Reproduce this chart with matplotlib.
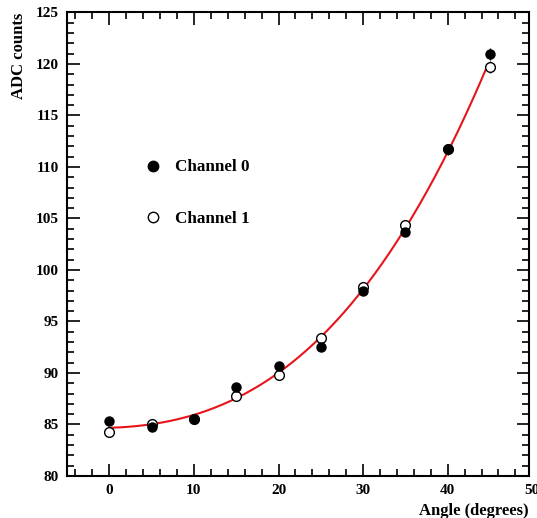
import numpy as np
import matplotlib
matplotlib.use("Agg")
import matplotlib.pyplot as plt
from matplotlib.ticker import MultipleLocator
from matplotlib.lines import Line2D

angles = [0, 5, 10, 15, 20, 25, 30, 35, 40, 45]
ch0 = [85.3, 84.75, 85.5, 88.65, 90.7, 92.55, 97.95, 103.7, 111.75, 120.95]
ch1 = [84.3, 85.0, 85.5, 87.8, 89.8, 93.35, 98.3, 104.4, 111.7, 119.7]
err0 = [0.3, 0.3, 0.3, 0.3, 0.35, 0.35, 0.4, 0.4, 0.5, 0.6]
err1 = [0.3, 0.3, 0.3, 0.3, 0.35, 0.35, 0.4, 0.4, 0.5, 0.6]
xticks = [0, 10, 20, 30, 40]
yticks = [80, 85, 90, 95, 100, 105, 110, 115, 120, 125]

plt.rcParams['font.family'] = ['Liberation Serif', 'DejaVu Serif']
plt.rcParams['font.weight'] = 'bold'

fig = plt.figure(figsize=(5.37, 5.18), dpi=100)
ax = fig.add_axes([0.1248, 0.0811, 0.985 - 0.1248, 0.9759 - 0.0811])

# fit curve from the combined data
xa = np.array(angles + angles, dtype=float)
ya = np.array(ch0 + ch1, dtype=float)
coef = np.polyfit(xa, ya, 3)
xf = np.linspace(0, 44.5, 200)
ax.plot(xf, np.polyval(coef, xf), color='#e8141c', lw=1.5, zorder=2)

ax.errorbar(angles, ch1, yerr=err1, fmt='o', ms=7, mfc='white', mec='black',
            mew=1.0, ecolor='black', elinewidth=1, capsize=0, zorder=3)
ax.errorbar(angles, ch0, yerr=err0, fmt='o', ms=6.5, mfc='black', mec='black',
            mew=1.0, ecolor='black', elinewidth=1, capsize=0, zorder=4)

ax.set_xlim(-5, 49.6)
ax.set_ylim(80, 125)
ax.set_xticks(xticks)
ax.set_yticks(yticks)
ax.xaxis.set_minor_locator(MultipleLocator(2))
ax.yaxis.set_minor_locator(MultipleLocator(1))
ax.tick_params(which='both', direction='in', top=True, right=True, width=1.2,
               labelsize=11, pad=6)
ax.tick_params(which='major', length=9)
ax.tick_params(which='minor', length=5)
for lab in ax.get_xticklabels() + ax.get_yticklabels():
    lab.set_fontweight('bold')
for s in ax.spines.values():
    s.set_linewidth(1.5)

ax.annotate('50', xy=(50, 80), xycoords='data', xytext=(0, -6),
            textcoords='offset points', ha='center', va='top',
            fontsize=11, fontweight='bold', annotation_clip=False)

ax.set_xlabel('Angle (degrees)', fontsize=12, fontweight='bold', loc='right',
              labelpad=4)
ax.set_ylabel('ADC counts', fontsize=12, fontweight='bold', loc='top',
              labelpad=6)

h0 = Line2D([], [], ls='none', marker='o', ms=7.5, mfc='black', mec='black')
h1 = Line2D([], [], ls='none', marker='o', ms=7.5, mfc='white', mec='black')
ax.legend([h0, h1], ['Channel 0', 'Channel 1'], loc='upper left',
          bbox_to_anchor=(0.133, 0.716), frameon=False,
          labelspacing=2.05, handletextpad=0.75, handlelength=1.1,
          prop={'weight': 'bold', 'size': 12.3})

fig.savefig('out.png', dpi=100)
